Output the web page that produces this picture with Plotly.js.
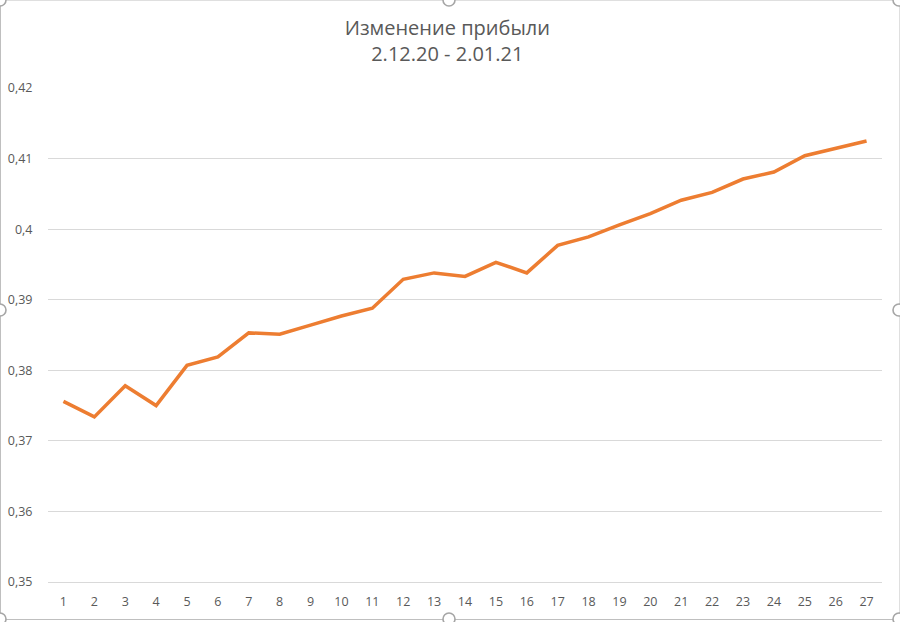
<!DOCTYPE html>
<html>
<head>
<meta charset="utf-8">
<script src="https://cdn.plot.ly/plotly-3.0.1.min.js"></script>
<style>
  html, body { margin: 0; padding: 0; background: #fff; }
  #chart { width: 900px; height: 622px; }
</style>
</head>
<body>
<div id="chart"></div>
<script>
// days of the period (category axis)
let days = [1, 2, 3, 4, 5, 6, 7, 8, 9, 10, 11, 12, 13, 14, 15, 16, 17, 18, 19, 20, 21, 22, 23, 24, 25, 26, 27];

// profit change
let profit = [0.3756, 0.3734, 0.3778, 0.3750, 0.3807, 0.3819, 0.3853, 0.3851, 0.3864, 0.3877,
              0.3888, 0.3929, 0.3938, 0.3933, 0.3953, 0.3938, 0.3977, 0.3989, 0.4006, 0.4022,
              0.4041, 0.4052, 0.4071, 0.4081, 0.4104, 0.4114, 0.4125];

let yTicks = [0.35, 0.36, 0.37, 0.38, 0.39, 0.40, 0.41, 0.42];

let textColor = "#595959";
let font = "Open Sans, sans-serif";

// plot area in pixels (for the frame decoration)
let plotL = 48, plotR = 882, plotT = 88, plotB = 582;
let px = x => (x - plotL) / (plotR - plotL);
let py = y => (plotB - y) / (plotB - plotT);

let trace = {
    type: "scatter",
    mode: "lines",
    x: days,
    y: profit,
    line: { color: "#ED7D31", width: 3.5 },
    hoverinfo: "x+y",
    showlegend: false
};

// selection handles round the chart box, like in Excel
function handle(x, y) {
    return {
        type: "circle", xref: "paper", yref: "paper",
        xsizemode: "pixel", ysizemode: "pixel",
        xanchor: px(x), yanchor: py(y),
        x0: -6, x1: 6, y0: -6, y1: 6,
        line: { color: "#a6a6a6", width: 1.6 },
        fillcolor: "#ffffff"
    };
}

let frame = {
    type: "rect", xref: "paper", yref: "paper",
    x0: px(0.5), x1: px(900), y0: py(619.5), y1: py(0),
    line: { color: "#bfbfbf", width: 1 },
    fillcolor: "rgba(0,0,0,0)",
    layer: "below"
};

let handles = [
    handle(0, 0), handle(449, 0), handle(899, 0),
    handle(0, 310), handle(899, 310),
    handle(0, 619), handle(449, 619), handle(899, 619)
];

let layout = {
    width: 900,
    height: 622,
    margin: { l: plotL, r: 900 - plotR, t: plotT, b: 622 - plotB },
    paper_bgcolor: "#ffffff",
    plot_bgcolor: "#ffffff",
    separators: ", ",
    font: { family: font, color: textColor, size: 12 },
    title: {
        text: "Изменение прибыли<br>2.12.20 - 2.01.21",
        font: { family: font, size: 20, color: textColor },
        x: 0.497,
        xanchor: "center",
        y: 0.943,
        yanchor: "top"
    },
    xaxis: {
        type: "linear",
        range: [0.5, 27.5],
        tickmode: "array",
        tickvals: days,
        ticktext: days.map(String),
        showgrid: false,
        zeroline: false,
        showline: true,
        linecolor: "#d9d9d9",
        linewidth: 1,
        ticks: "outside",
        ticklen: 8,
        tickcolor: "rgba(0,0,0,0)",
        tickfont: { size: 12.5, color: textColor },
        fixedrange: true
    },
    yaxis: {
        range: [0.35, 0.42],
        tickmode: "array",
        tickvals: yTicks,
        ticktext: yTicks.map(v => String(+v.toFixed(2)).replace(".", ",")),
        showgrid: true,
        gridcolor: "#d9d9d9",
        gridwidth: 1,
        zeroline: false,
        showline: false,
        ticks: "outside",
        ticklen: 12,
        tickcolor: "rgba(0,0,0,0)",
        tickfont: { size: 12.5, color: textColor },
        fixedrange: true
    },
    shapes: [frame].concat(handles)
};

Plotly.newPlot("chart", [trace], layout, { displayModeBar: false, staticPlot: true });
</script>
</body>
</html>
